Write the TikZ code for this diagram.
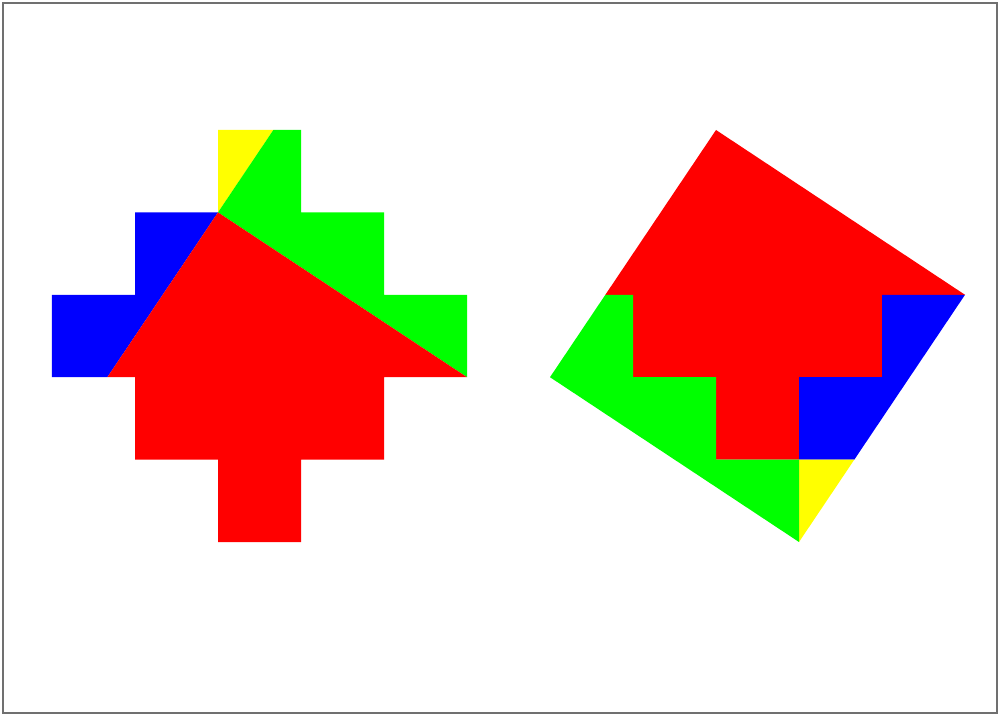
\documentclass[tikz,border=0pt]{standalone}
\definecolor{framegray}{RGB}{112,112,112}
\definecolor{pred}{RGB}{255,0,0}
\definecolor{pgreen}{RGB}{0,255,0}
\definecolor{pblue}{RGB}{0,0,255}
\definecolor{pyellow}{RGB}{255,255,0}
\tikzset{
  redpiece/.style={fill=pred},
  greenpiece/.style={fill=pgreen},
  bluepiece/.style={fill=pblue},
  yellowpiece/.style={fill=pyellow},
  frame/.style={draw=framegray, line width=2.2pt}
}
\begin{document}
\begin{tikzpicture}[x=83pt, y=-82.4pt]
\useasboundingbox (-0.6265,-1.5777) rectangle (11.4337,7.1238);
\fill[white] (-0.6265,-1.5777) rectangle (11.4337,7.1238);
\draw[frame] (-0.5904,-1.5413) rectangle (11.3855,7.0752);
% left figure
\fill[yellowpiece] (2,0) -- (2.6667,0) -- (2,1) -- cycle;
\fill[greenpiece] (2.6667,0) -- (3,0) -- (3,1) -- (4,1) -- (4,2) -- (5,2) -- (5,3) -- (2,1) -- cycle;
\fill[bluepiece] (1,1) -- (2,1) -- (0.6667,3) -- (0,3) -- (0,2) -- (1,2) -- cycle;
\fill[redpiece] (2,1) -- (5,3) -- (4,3) -- (4,4) -- (3,4) -- (3,5) -- (2,5) -- (2,4) -- (1,4) -- (1,3) -- (0.6667,3) -- cycle;
% right figure
\fill[redpiece] (8,0) -- (11,2) -- (10,2) -- (10,3) -- (9,3) -- (9,4) -- (8,4) -- (8,3) -- (7,3) -- (7,2) -- (6.6667,2) -- cycle;
\fill[bluepiece] (11,2) -- (10,2) -- (10,3) -- (9,3) -- (9,4) -- (9.6667,4) -- cycle;
\fill[yellowpiece] (9,4) -- (9.6667,4) -- (9,5) -- cycle;
\fill[greenpiece] (6.6667,2) -- (7,2) -- (7,3) -- (8,3) -- (8,4) -- (9,4) -- (9,5) -- (6,3) -- cycle;
\end{tikzpicture}
\end{document}
